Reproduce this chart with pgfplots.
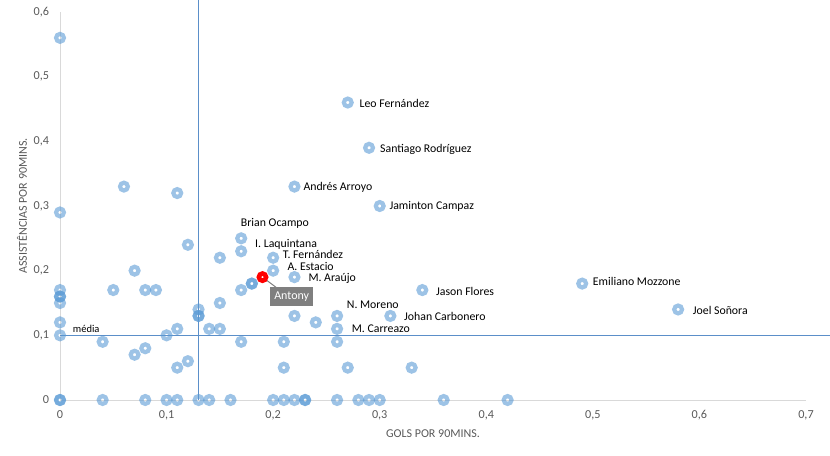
\documentclass[border=0pt]{standalone}
\usepackage{fontspec}
\setmainfont{Carlito}
\usepackage{pgfplots}
\pgfplotsset{compat=1.18}
\definecolor{mk}{HTML}{5B9BD5}
\definecolor{avg}{HTML}{5B8FC9}
\definecolor{axgray}{HTML}{D9D9D9}
\definecolor{tickgray}{HTML}{595959}
\definecolor{callout}{HTML}{7F7F7F}
\begin{document}
\begin{tikzpicture}[x=1bp,y=1bp,
  lbl/.style={font=\fontsize{11.8bp}{13bp}\selectfont, anchor=west, inner sep=0pt, text=black}]
\path[use as bounding box] (0,0) rectangle (830,456);
\begin{axis}[
  at={(60bp,56bp)}, anchor=south west,
  scale only axis, width=746bp, height=388bp,
  xmin=0, xmax=0.7, ymin=0, ymax=0.6,
  clip=false,
  axis x line*=bottom, axis y line*=left,
  axis line style={draw=axgray, line width=0.75bp},
  xtick={0,0.1,0.2,0.3,0.4,0.5,0.6,0.7},
  ytick={0,0.1,0.2,0.3,0.4,0.5,0.6},
  major tick length=0pt,
  tick label style={font=\fontsize{12.2bp}{14bp}\selectfont, text=tickgray},
  x tick label style={anchor=center, yshift=-15bp},
  y tick label style={anchor=east, xshift=-7.5bp},
  xlabel={GOLS POR 90MINS.},
  ylabel={ASSISTÊNCIAS POR 90MINS.},
  label style={font=\fontsize{12bp}{14bp}\selectfont, text=tickgray},
  xlabel style={at={(axis description cs:0.5,-0.0876)}, anchor=center},
  ylabel style={at={(axis description cs:-0.0509,0.5)}, anchor=center},
  /pgf/number format/.cd, use comma, fixed, precision=1, assume math mode=true,
]
% average lines
\addplot[avg, line width=1.25bp] coordinates {(0.13,0) (0.13,0.6185)};
\addplot[avg, line width=1.25bp] coordinates {(0,0.1) (0.7225,0.1)};

% players
\addplot[only marks, mark=o, mark size=3.9bp,
  mark options={draw=mk, line width=4.2bp, draw opacity=0.6}]
coordinates {
(0,0.56) (0,0.29) (0,0.17) (0,0.16) (0,0.16) (0,0.15) (0,0.12) (0,0.10) (0,0) (0,0)
(0.04,0.09) (0.05,0.17) (0.06,0.33) (0.07,0.20) (0.07,0.07) (0.08,0.17) (0.08,0.08)
(0.09,0.17) (0.10,0.10) (0.11,0.32) (0.11,0.11) (0.11,0.05) (0.12,0.24) (0.12,0.06)
(0.13,0.14) (0.13,0.13) (0.13,0.13) (0.14,0.11) (0.15,0.22) (0.15,0.15) (0.15,0.11)
(0.17,0.25) (0.17,0.23) (0.17,0.17) (0.17,0.09) (0.18,0.18) (0.18,0.18)
(0.20,0.22) (0.20,0.20) (0.21,0.09) (0.21,0.05) (0.22,0.33) (0.22,0.19) (0.22,0.13)
(0.24,0.12) (0.26,0.13) (0.26,0.11) (0.26,0.09) (0.27,0.46) (0.27,0.05) (0.29,0.39)
(0.30,0.30) (0.31,0.13) (0.33,0.05) (0.34,0.17) (0.49,0.18) (0.58,0.14)
(0.04,0) (0.08,0) (0.10,0) (0.11,0) (0.13,0) (0.14,0) (0.16,0) (0.20,0) (0.21,0)
(0.22,0) (0.23,0) (0.23,0) (0.26,0) (0.28,0) (0.29,0) (0.30,0) (0.36,0) (0.42,0)
};

% Antony callout
\addplot[callout, line width=1bp] coordinates {(0.19,0.19) (0.2045,0.172)};
\node[fill=callout, text=white, inner sep=0pt, minimum width=43bp, minimum height=19bp,
  font=\fontsize{12bp}{13bp}\selectfont] at (axis cs:0.2174,0.1597) {Antony};
\addplot[only marks, mark=*, mark size=3.6bp,
  mark options={draw=red, fill=white, line width=4.6bp}]
coordinates {(0.19,0.19)};

% labels
\node[lbl] at (axis cs:0.2809,0.4588) {Leo Fernández};
\node[lbl] at (axis cs:0.3003,0.3877) {Santiago Rodríguez};
\node[lbl] at (axis cs:0.2283,0.3289) {Andrés Arroyo};
\node[lbl] at (axis cs:0.3090,0.2989) {Jaminton Campaz};
\node[lbl] at (axis cs:0.1696,0.2737) {Brian Ocampo};
\node[lbl] at (axis cs:0.1830,0.2412) {I. Laquintana};
\node[lbl] at (axis cs:0.2090,0.2253) {T. Fernández};
\node[lbl] at (axis cs:0.2133,0.2061) {A. Estacio};
\node[lbl] at (axis cs:0.2330,0.1876) {M. Araújo};
\node[lbl] at (axis cs:0.3528,0.1686) {Jason Flores};
\node[lbl] at (axis cs:0.2690,0.1480) {N. Moreno};
\node[lbl] at (axis cs:0.3228,0.1294) {Johan Carbonero};
\node[lbl] at (axis cs:0.2737,0.1098) {M. Carreazo};
\node[lbl] at (axis cs:0.4999,0.1829) {Emiliano Mozzone};
\node[lbl] at (axis cs:0.5937,0.1387) {Joel Soñora};
\node[lbl, font=\fontsize{10.5bp}{12bp}\selectfont] at (axis cs:0.0119,0.1098) {média};
\end{axis}
\end{tikzpicture}
\end{document}
